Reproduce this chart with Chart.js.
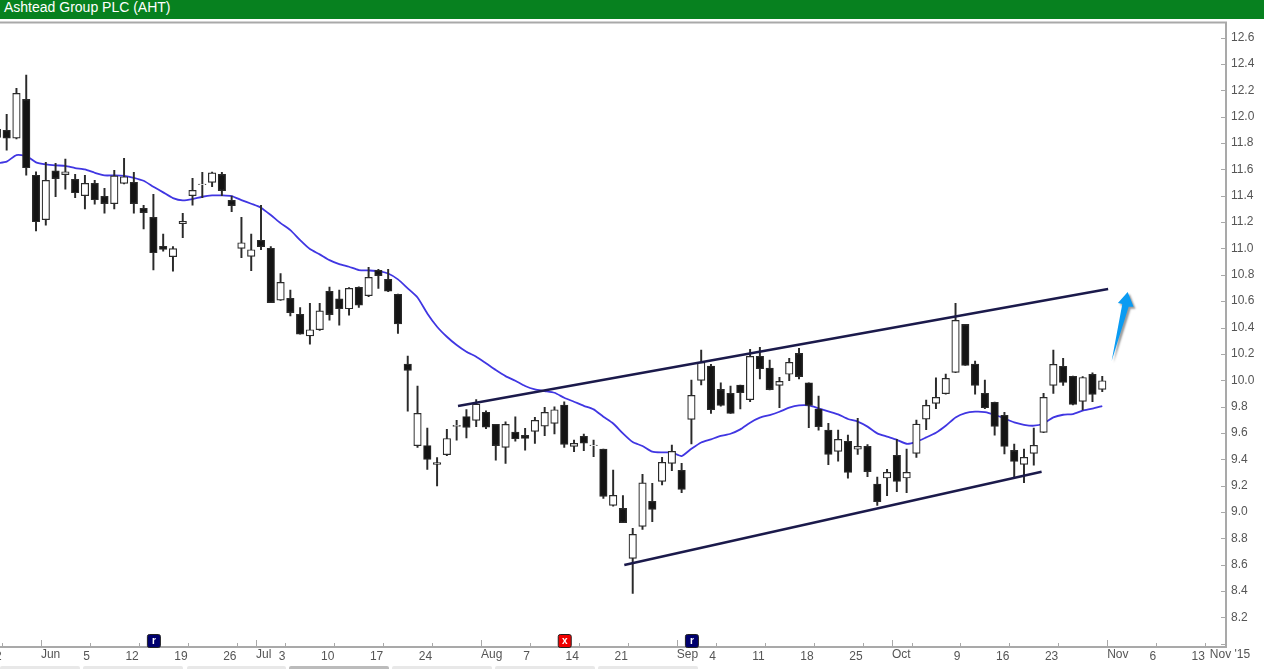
<!DOCTYPE html>
<html>
<head>
<meta charset="utf-8">
<title>Ashtead Group PLC (AHT)</title>
<script src="https://cdn.jsdelivr.net/npm/chart.js@4"></script>
<style>
html, body { margin: 0; padding: 0; background: #fff; overflow: hidden; }
#wrap { position: relative; width: 1264px; height: 669px; }
#header { position: absolute; left: 0; top: 0; width: 1264px; height: 19px; background: #07811f; color: #fff; font: 14px "Liberation Sans", Arial, sans-serif; line-height: 15px; padding-left: 4px; box-sizing: border-box; }
#chart { position: absolute; left: 0; top: 0; }
.tab { position: absolute; top: 666px; height: 3px; background: #e8e8e8; border-radius: 2px 2px 0 0; }
</style>
</head>
<body>
<div id="wrap">
    <canvas id="chart" width="1264" height="669"></canvas>
    <div id="header">Ashtead Group PLC (AHT)</div>
    <div class="tab" style="left:0;width:80px"></div>
    <div class="tab" style="left:83px;width:100px"></div>
    <div class="tab" style="left:187px;width:99px"></div>
    <div class="tab" style="left:289px;width:100px;background:#bbb"></div>
    <div class="tab" style="left:392px;width:100px"></div>
    <div class="tab" style="left:495px;width:100px"></div>
    <div class="tab" style="left:598px;width:100px"></div>
</div>
<script>
// daily prices, array index = trading day position on the x axis
const opens = [11.842,11.895,11.837,12.131,11.554,11.218,11.589,11.559,11.524,11.400,11.493,11.395,11.339,11.493,11.501,11.304,11.235,11.015,10.937,11.187,11.400,11.483,11.501,11.562,11.364,11.000,10.939,11.061,11.000,10.608,10.621,10.499,10.337,10.383,10.674,10.618,10.542,10.704,10.641,10.833,10.765,10.651,10.122,9.503,9.505,9.361,9.435,9.650,9.725,9.695,9.756,9.665,9.490,9.607,9.581,9.612,9.652,9.672,9.812,9.498,9.574,9.503,9.478,9.050,9.028,8.648,8.891,9.081,9.232,9.369,9.316,9.703,9.999,10.108,9.931,9.900,9.964,9.852,10.181,10.093,9.961,10.045,10.204,9.981,9.782,9.622,9.460,9.536,9.476,9.498,9.213,9.258,9.430,9.258,9.445,9.705,9.824,9.898,10.059,10.424,10.123,9.900,9.832,9.733,9.468,9.361,9.445,9.604,9.961,10.105,10.029,9.839,10.044,9.930];
const highs = [11.930,12.017,12.214,12.315,11.582,11.653,11.645,11.678,11.562,11.554,11.516,11.455,11.592,11.683,11.577,11.326,11.410,11.109,11.013,11.266,11.531,11.577,11.579,11.577,11.397,11.235,11.109,11.326,11.013,10.810,10.684,10.552,10.583,10.583,10.707,10.684,10.702,10.709,10.856,10.841,10.841,10.654,10.183,9.956,9.637,9.414,9.627,9.695,9.778,9.854,9.768,9.665,9.685,9.723,9.635,9.718,9.794,9.799,9.837,9.546,9.592,9.546,9.478,9.318,9.124,8.876,9.286,9.217,9.415,9.508,9.369,10.001,10.229,10.120,9.981,9.956,9.964,10.234,10.249,10.153,10.022,10.166,10.242,9.981,9.880,9.673,9.622,9.584,9.711,9.511,9.266,9.324,9.551,9.478,9.698,9.850,10.019,10.047,10.583,10.424,10.145,10.001,9.834,9.756,9.516,9.478,9.637,9.900,10.229,10.166,10.032,10.027,10.057,10.029];
const lows = [11.810,11.746,11.830,11.556,11.132,11.177,11.392,11.450,11.385,11.299,11.336,11.268,11.299,11.490,11.268,11.147,10.836,10.980,10.828,11.081,11.329,11.385,11.468,11.400,11.278,10.929,10.831,10.990,10.588,10.605,10.487,10.350,10.274,10.378,10.456,10.418,10.494,10.552,10.633,10.697,10.671,10.355,9.766,9.490,9.323,9.199,9.427,9.546,9.563,9.647,9.632,9.394,9.369,9.538,9.470,9.521,9.579,9.592,9.490,9.458,9.465,9.420,9.103,9.045,8.919,8.383,8.868,8.926,9.205,9.313,9.146,9.516,9.964,9.749,9.804,9.749,9.782,9.837,10.009,9.926,9.792,9.997,10.009,9.640,9.622,9.359,9.385,9.256,9.438,9.268,9.051,9.124,9.154,9.147,9.415,9.624,9.784,9.895,10.057,10.113,9.895,9.784,9.584,9.440,9.263,9.222,9.356,9.602,9.900,9.961,9.812,9.774,9.837,9.913];
const closes = [11.903,11.837,12.176,11.612,11.202,11.516,11.529,11.582,11.422,11.493,11.369,11.339,11.551,11.544,11.339,11.271,10.967,10.992,10.998,11.205,11.440,11.488,11.574,11.438,11.324,11.043,10.990,11.013,10.588,10.742,10.512,10.350,10.383,10.527,10.497,10.542,10.697,10.570,10.780,10.793,10.676,10.428,10.074,9.748,9.399,9.376,9.558,9.657,9.642,9.819,9.644,9.503,9.665,9.556,9.559,9.695,9.756,9.776,9.513,9.521,9.523,9.508,9.119,9.126,8.919,8.830,9.222,9.020,9.377,9.460,9.172,9.885,10.136,9.777,9.809,9.749,9.906,10.181,10.088,9.928,9.991,10.136,10.027,9.809,9.648,9.438,9.551,9.301,9.498,9.306,9.079,9.301,9.233,9.301,9.667,9.809,9.870,10.014,10.454,10.113,9.961,9.791,9.650,9.498,9.384,9.415,9.506,9.870,10.120,9.984,9.817,10.021,9.893,9.996];
const movingAvg = [11.645,11.658,11.708,11.701,11.653,11.637,11.630,11.627,11.610,11.599,11.574,11.554,11.554,11.551,11.536,11.513,11.468,11.425,11.382,11.364,11.374,11.392,11.402,11.402,11.397,11.367,11.339,11.309,11.253,11.192,11.139,11.063,10.995,10.955,10.911,10.881,10.861,10.836,10.833,10.828,10.810,10.765,10.697,10.628,10.507,10.406,10.330,10.267,10.216,10.178,10.128,10.077,10.031,9.996,9.956,9.930,9.918,9.905,9.867,9.837,9.806,9.779,9.723,9.672,9.597,9.531,9.501,9.458,9.452,9.452,9.425,9.480,9.528,9.552,9.577,9.594,9.627,9.678,9.716,9.736,9.761,9.792,9.809,9.809,9.787,9.764,9.741,9.706,9.686,9.648,9.597,9.572,9.548,9.518,9.533,9.566,9.602,9.655,9.718,9.751,9.761,9.758,9.738,9.710,9.680,9.662,9.655,9.672,9.718,9.738,9.743,9.769,9.784,9.804];

// drawn channel lines and arrow, in axis units
const upperTrend = [[47.14, 9.804], [113.6, 10.692]];
const lowerTrend = [[64.14, 8.598], [106.8, 9.306]];
const arrowPoints = [[113.96,10.145],[115.7,10.558],[116.2,10.558],[115.6,10.669],[114.6,10.586],[115.05,10.578]];

const yTicks = [8.0,8.2,8.4,8.6,8.8,9.0,9.2,9.4,9.6,9.8,10.0,10.2,10.4,10.6,10.8,11.0,11.2,11.4,11.6,11.8,12.0,12.2,12.4,12.6];
const xTicks = [0.5,4.5,9.5,14.5,19.5,24.5,26.5,29.5,34.5,39.5,44.5,49.5,54.5,59.5,64.5,69.5,73.5,78.5,83.5,88.5,91.5,93.5,98.5,103.5,108.5,113.5,118.5,123.5];
const dayLabels = ['22','','5','12','19','26','','3','10','17','24','','7','14','21','','4','11','18','25','','','9','16','23','','6','13'];
const monthLabels = ['','Jun','','','','','Jul','','','','','Aug','','','','Sep','','','','','Oct','','','','','Nov','',''];
const eventDays = [16, 58, 71];
const eventTexts = ['r', 'x', 'r'];
const eventColors = ['#00006e', '#f00000', '#00006e'];

const axisColor = '#a9a9a9';
const textColor = '#555';
const fontFamily = '"Liberation Sans", Arial, sans-serif';

const dayIndex = opens.map((v, i) => i);
const isUp = dayIndex.map(i => closes[i] >= opens[i]);

const chartFurniture = {
    id: 'chartFurniture',
    // blue arrow sits with the trend lines, over the candles
    afterDatasetsDraw(chart) {
        const {ctx, scales: {x, y}} = chart;
        ctx.save();
        ctx.shadowColor = 'rgba(0,0,0,0.4)';
        ctx.shadowBlur = 2;
        ctx.shadowOffsetX = 2;
        ctx.shadowOffsetY = 2;
        ctx.fillStyle = '#0a9bf2';
        ctx.beginPath();
        arrowPoints.forEach((p, i) => {
            const px = x.getPixelForValue(p[0]), py = y.getPixelForValue(p[1]);
            if (i === 0) ctx.moveTo(px, py); else ctx.lineTo(px, py);
        });
        ctx.closePath();
        ctx.fill();
        ctx.restore();
    },
    afterDraw(chart) {
        const {ctx, chartArea, scales: {x, y}} = chart;
        ctx.save();
        ctx.strokeStyle = axisColor;
        ctx.lineWidth = 2;
        ctx.beginPath();
        ctx.moveTo(0, chartArea.top);
        ctx.lineTo(chartArea.right + 1, chartArea.top);
        ctx.stroke();

        // ticks point into the plot
        ctx.lineWidth = 1;
        ctx.beginPath();
        yTicks.forEach(v => {
            const py = Math.round(y.getPixelForValue(v)) + 0.5;
            ctx.moveTo(chartArea.right - 5, py);
            ctx.lineTo(chartArea.right, py);
        });
        xTicks.forEach((v, i) => {
            const px = Math.round(x.getPixelForValue(v)) + 0.5;
            ctx.moveTo(px, chartArea.bottom);
            ctx.lineTo(px, chartArea.bottom - (monthLabels[i] ? 7 : 4));
        });
        ctx.stroke();

        // month names start at their tick, the library draws the day numbers
        ctx.font = '12px ' + fontFamily;
        ctx.fillStyle = textColor;
        ctx.textAlign = 'left';
        ctx.textBaseline = 'middle';
        xTicks.forEach((v, i) => {
            if (monthLabels[i]) ctx.fillText(monthLabels[i], x.getPixelForValue(v), 655);
        });
        ctx.fillText("Nov '15", x.getPixelForValue(124), 655);

        ctx.font = 'bold 10px ' + fontFamily;
        ctx.textAlign = 'center';
        eventDays.forEach((d, i) => {
            const px = x.getPixelForValue(d);
            ctx.fillStyle = eventColors[i];
            ctx.strokeStyle = '#222';
            ctx.lineWidth = 1;
            ctx.beginPath();
            ctx.roundRect(px - 6, 634.5, 13, 13, 2);
            ctx.fill();
            ctx.stroke();
            ctx.fillStyle = '#fff';
            ctx.fillText(eventTexts[i], px + 0.5, 641);
        });
        ctx.restore();
    }
};

new Chart(document.getElementById('chart').getContext('2d'), {
    data: {
        datasets: [
            {
                type: 'line',
                label: 'Average',
                data: dayIndex.map(i => ({x: i, y: movingAvg[i]})),
                borderColor: '#4036e2',
                borderWidth: 1.8,
                pointRadius: 0,
                tension: 0.2,
                order: 4
            },
            {
                type: 'bar',
                label: 'Range',
                data: dayIndex.map(i => ({x: i, y: [lows[i], highs[i]]})),
                backgroundColor: '#2a2a2a',
                barThickness: 1.3,
                grouped: false,
                order: 3
            },
            {
                type: 'bar',
                label: 'Body',
                data: dayIndex.map(i => ({x: i, y: [opens[i], closes[i]]})),
                backgroundColor: dayIndex.map(i => isUp[i] ? '#ffffff' : '#141414'),
                borderColor: '#2a2a2a',
                borderWidth: 1.2,
                borderSkipped: false,
                barThickness: 7.5,
                grouped: false,
                order: 2
            },
            {
                type: 'line',
                label: 'Upper channel',
                data: upperTrend.map(p => ({x: p[0], y: p[1]})),
                borderColor: '#1b1a4b',
                borderWidth: 2.5,
                pointRadius: 0,
                order: 1
            },
            {
                type: 'line',
                label: 'Lower channel',
                data: lowerTrend.map(p => ({x: p[0], y: p[1]})),
                borderColor: '#1b1a4b',
                borderWidth: 2.5,
                pointRadius: 0,
                order: 1
            }
        ]
    },
    options: {
        responsive: false,
        animation: false,
        layout: { padding: { top: 22.5, left: 0, right: 0, bottom: 0 } },
        plugins: {
            legend: { display: false },
            tooltip: { enabled: false },
            title: { display: false }
        },
        scales: {
            x: {
                type: 'linear',
                offset: false,
                min: 0.318,
                max: 125.65,
                afterBuildTicks(scale) { scale.ticks = xTicks.map(v => ({value: v})); },
                // first label hangs off the left edge as in the source, no padding for it
                afterFit(scale) { scale.height = 22; scale.paddingLeft = 0; scale.paddingRight = 0; },
                border: { display: true, color: axisColor, width: 2 },
                grid: { display: true, offset: false, drawOnChartArea: false, drawTicks: false },
                ticks: {
                    autoSkip: false,
                    maxRotation: 0,
                    align: 'end',
                    padding: 2,
                    color: textColor,
                    font: { family: fontFamily, size: 12 },
                    callback(value) { return dayLabels[xTicks.indexOf(value)]; }
                }
            },
            y: {
                type: 'linear',
                position: 'right',
                min: 7.976,
                max: 12.714,
                afterBuildTicks(scale) { scale.ticks = yTicks.map(v => ({value: v})); },
                afterFit(scale) { scale.width = 38; scale.paddingTop = 0; scale.paddingBottom = 0; },
                border: { display: true, color: axisColor, width: 2 },
                grid: { display: true, drawOnChartArea: false, drawTicks: false },
                ticks: {
                    autoSkip: false,
                    padding: 5,
                    color: textColor,
                    font: { family: fontFamily, size: 12 },
                    callback(value) { return value === 8 ? '' : value.toFixed(1); }
                }
            }
        }
    },
    plugins: [chartFurniture]
});
</script>
</body>
</html>
